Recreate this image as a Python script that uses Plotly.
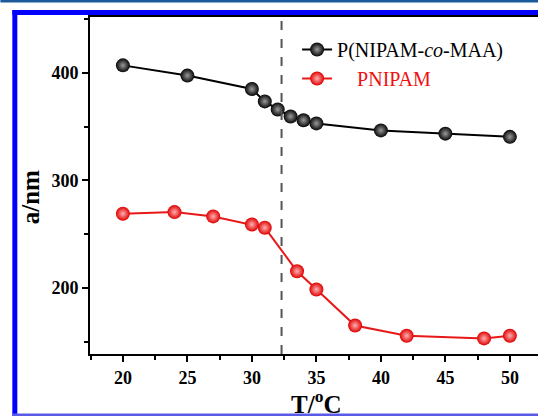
import plotly.graph_objects as go

# Data
T_copoly = [20, 25, 30, 31, 32, 33, 34, 35, 40, 45, 50]
a_copoly = [407, 397.5, 385, 373.5, 366, 359.5, 356, 353, 346.5, 343.5, 340.5]

T_pnipam = [20, 24, 27, 30, 31, 33.5, 35, 38, 42, 48, 50]
a_pnipam = [269, 270.5, 266.5, 259, 256, 215.5, 198.5, 165, 155.5, 153, 155.5]

LCST = 32.3
x_ticks = [20, 25, 30, 35, 40, 45, 50]
y_ticks = [200, 300, 400]

# the original figure runs a little past the right edge of the window
W, H = 548, 416
L, R, T, B = 90, 0, 17, 62
PW, PH = W - L - R, H - T - B

def px(x):
    return (x - L) / PW

def py(y):
    return (H - B - y) / PH

serif = "Liberation Serif"

fig = go.Figure()
fig.add_trace(go.Scatter(
    x=T_copoly, y=a_copoly, mode="lines+markers",
    name="P(NIPAM-<i>co</i>-MAA)",
    line=dict(color="black", width=2),
    marker=dict(size=14, color="#050505",
                gradient=dict(type="radial", color="#9a9a9a"),
                line=dict(width=0)),
))
fig.add_trace(go.Scatter(
    x=T_pnipam, y=a_pnipam, mode="lines+markers",
    name="<span style='color:#ee1111'>&nbsp;&nbsp;&nbsp;&nbsp;PNIPAM</span>",
    line=dict(color="#e81818", width=2),
    marker=dict(size=14, color="#e00000",
                gradient=dict(type="radial", color="#ffb0b0"),
                line=dict(width=0)),
))

fig.add_vline(x=LCST, line=dict(color="#555555", width=2, dash="dash"))

shapes = [
    dict(type="rect", xref="paper", yref="paper", x0=px(0), x1=px(W), y0=py(2.5), y1=py(0),
         fillcolor="#1b5a9c", line=dict(width=0), layer="above"),
    dict(type="rect", xref="paper", yref="paper", x0=px(12), x1=px(W), y0=py(15), y1=py(10),
         fillcolor="#0000ff", line=dict(width=0), layer="above"),
    dict(type="rect", xref="paper", yref="paper", x0=px(12), x1=px(17), y0=py(H), y1=py(10),
         fillcolor="#0000ff", line=dict(width=0), layer="above"),
    dict(type="rect", xref="paper", yref="paper", x0=px(12), x1=px(W), y0=py(H), y1=py(413.5),
         fillcolor="#5a5ae8", line=dict(width=0), layer="above"),
]
for s in shapes:
    fig.add_shape(**s)

fig.add_annotation(text="<b>a/nm</b>", xref="paper", yref="paper", x=px(30), y=py(197),
                   textangle=-90, showarrow=False, xanchor="center", yanchor="middle",
                   font=dict(family=serif, size=25, color="black"))
fig.add_annotation(text="<b>T/<sup>o</sup>C</b>", xref="paper", yref="paper", x=px(317), y=py(402),
                   showarrow=False, xanchor="center", yanchor="middle",
                   font=dict(family=serif, size=25, color="black"))

fig.update_xaxes(
    range=[17.45, 52.8], tickvals=x_ticks, ticks="outside", ticklen=6, tickwidth=2,
    tickcolor="black", showline=True, linecolor="black", linewidth=2, mirror=True,
    showgrid=False, zeroline=False,
    tickfont=dict(family=serif, size=18, color="black", weight="bold"),
    minor=dict(ticks="outside", ticklen=4, tickwidth=2, tickcolor="black", dtick=2.5, tick0=17.5,
               showgrid=False),
)
fig.update_yaxes(
    range=[138.5, 452], tickvals=y_ticks, ticks="outside", ticklen=6, tickwidth=2,
    tickcolor="black", showline=True, linecolor="black", linewidth=2, mirror=True,
    showgrid=False, zeroline=False,
    tickfont=dict(family=serif, size=18, color="black", weight="bold"),
    minor=dict(ticks="outside", ticklen=4, tickwidth=2, tickcolor="black", dtick=50, tick0=150,
               showgrid=False),
)

fig.update_layout(
    width=W, height=H, margin=dict(l=L, r=R, t=T, b=B),
    paper_bgcolor="white", plot_bgcolor="white",
    showlegend=True,
    legend=dict(x=px(298), y=py(30), xanchor="left", yanchor="top",
                bgcolor="rgba(0,0,0,0)", font=dict(family=serif, size=20, color="black"),
                itemwidth=30, tracegroupgap=0),
)

fig.write_html(
    "out.html",
    config={"displayModeBar": False},
    post_script="document.documentElement.style.overflow='hidden';document.body.style.overflow='hidden';",
)
